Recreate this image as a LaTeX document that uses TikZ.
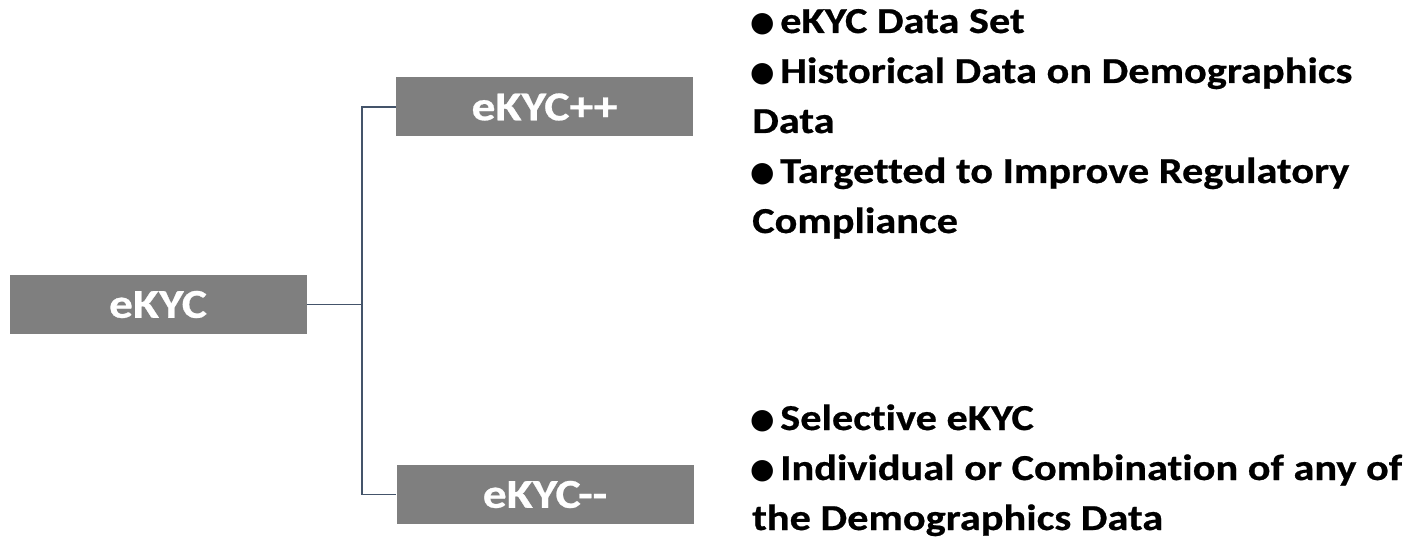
\documentclass[tikz,border=0pt]{standalone}
\usepackage{fontspec}
\setmainfont[FakeStretch=1.16,Ligatures={NoCommon},FakeBold=0.6]{Carlito}
\newfontfamily\bulfont{DejaVu Sans}
\newcommand{\bul}{\makebox[30pt][l]{\raisebox{1.5pt}{\bulfont\fontsize{28}{28}\selectfont ●}}}
\begin{document}
\begin{tikzpicture}[x=1pt,y=1pt,
  box/.style={fill=boxgray,draw=none,minimum width=297pt,minimum height=59pt,inner sep=0pt,
    text=white,font=\fontsize{41}{41}\selectfont\bfseries},
  link/.style={draw=linkblue,line width=1.6pt},
  line/.style={anchor=base west,inner sep=0pt,font=\fontsize{36.5}{36.5}\selectfont\bfseries}]
\definecolor{boxgray}{HTML}{7F7F7F}
\definecolor{linkblue}{HTML}{44546A}
\useasboundingbox (0,0) rectangle (1416,544);
\node[box] (ekyc) at (158,239.5) {eKYC};
\node[box] (plus) at (544.5,437) {eKYC++};
\node[box] (minus) at (545,49.5) {eKYC-{}-};
\draw[link] (ekyc.east) -- ++(55,0) coordinate (j);
\draw[link] (j) |- (plus.west);
\draw[link] (j) |- (minus.west);
\node[line] (t1) at (750,511) {\bul eKYC Data Set};
\node[line] (t2) at (750,461) {\bul Historical Data on Demographics};
\node[line] (t3) at (752,411) {Data};
\node[line] (t4) at (750,361) {\bul Targetted to Improve Regulatory};
\node[line] (t5) at (752,311) {Compliance};
\node[line] (b1) at (750,114) {\bul Selective eKYC};
\node[line] (b2) at (750,64) {\bul Individual or Combination of any of};
\node[line] (b3) at (752,14) {the Demographics Data};
\end{tikzpicture}
\end{document}
